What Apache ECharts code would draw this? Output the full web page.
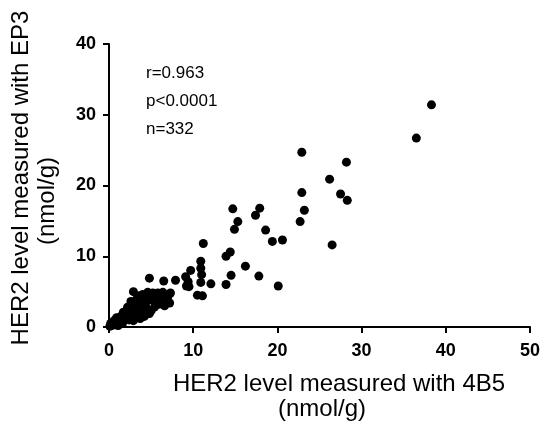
<!DOCTYPE html>
<html>
<head>
<meta charset="utf-8">
<script src="https://cdn.jsdelivr.net/npm/echarts@6/dist/echarts.min.js"></script>
<style>
html,body{margin:0;padding:0;background:#fff;}
#chart{width:543px;height:421px;}
</style>
</head>
<body>
<div id="chart"></div>
<script>
// HER2 measured with 4B5 (x, nmol/g)
var her2_4B5 = [
  38.3, 36.5, 22.9, 28.2, 26.2, 22.9, 27.5, 28.3, 23.2, 22.7, 20.6, 26.5,
  14.7, 17.9, 17.4, 15.3, 14.9, 18.6, 19.4, 11.2, 14.4, 13.9, 10.9, 16.2,
  9.7, 9.1, 10.9, 11.0, 10.9, 14.5, 17.8, 9.2, 9.5, 12.1, 13.9, 20.1, 11.1,
  4.8, 6.5, 7.9, 9.4, 10.5, 4.8, 2.9,
  0.1, 0.3, 0.5, 0.2, 0.8, 0.6, 1.0, 1.2, 0.9, 1.5, 1.4, 1.8, 2.0, 1.7, 2.3,
  2.5, 2.2, 2.8, 3.0, 2.7, 3.3, 3.5, 3.2, 3.8, 3.6, 4.1, 4.3, 4.0, 4.5, 4.8,
  4.6, 5.0, 5.3, 5.2, 5.6, 5.8, 6.0, 6.2, 6.5, 6.4, 6.8, 7.0, 7.3, 5.5, 4.4,
  5.0, 3.9, 3.1, 2.4, 1.6, 5.9, 6.6, 7.2, 3.7, 2.9, 1.1, 4.2, 5.4, 2.6, 3.4
];
// HER2 measured with EP3 (y, nmol/g)
var her2_EP3 = [
  31.4, 26.7, 24.7, 23.3, 20.9, 19.0, 18.8, 17.9, 16.5, 14.9, 12.3, 11.6,
  16.7, 16.8, 15.8, 14.9, 13.8, 13.7, 12.1, 11.8, 10.6, 10.0, 9.3, 8.6,
  8.0, 7.1, 8.3, 7.4, 6.3, 7.3, 7.2, 5.8, 5.7, 6.1, 6.0, 5.8, 4.4,
  6.9, 6.5, 6.6, 6.4, 4.5, 1.9, 5.0,
  0.1, 0.2, 0.4, 0.5, 0.3, 0.9, 0.7, 1.0, 1.3, 0.8, 1.5, 1.2, 1.8, 2.1, 1.5,
  2.3, 2.8, 2.0, 2.7, 3.3, 3.0, 2.4, 3.8, 3.5, 4.2, 3.9, 3.2, 4.6, 4.3, 3.8,
  4.9, 4.5, 4.0, 4.8, 4.3, 4.8, 3.9, 4.5, 4.1, 4.9, 3.6, 4.3, 4.8, 3.5, 2.7,
  2.3, 2.0, 1.6, 1.0, 0.5, 3.2, 3.0, 3.4, 1.2, 0.9, 0.2, 1.5, 2.8, 3.6, 4.4
];
var xTicks = [0, 10, 20, 30, 40, 50];
var yTicks = [0, 10, 20, 30, 40];
var statsLines = ['r=0.963', 'p<0.0001', 'n=332'];
var xTitle = ['HER2 level measured with 4B5', '(nmol/g)'];
var yTitle = ['HER2 level measured with EP3', '(nmol/g)'];

var points = her2_4B5.map(function (x, i) { return [x, her2_EP3[i]]; });

var chart = echarts.init(document.getElementById('chart'), null, {renderer: 'canvas'});
var FONT = 'Liberation Sans, Arial, sans-serif';
var axisCommon = {
  type: 'value',
  splitLine: {show: false},
  axisLine: {show: true, lineStyle: {color: '#000', width: 2}},
  axisTick: {show: true, inside: false, length: 6, lineStyle: {color: '#000', width: 2}},
  axisLabel: {color: '#000', fontFamily: FONT, fontWeight: 'bold', fontSize: 18}
};
chart.setOption({
  animation: false,
  backgroundColor: '#fff',
  grid: {left: 109, right: 11, top: 44, bottom: 94, containLabel: false},
  xAxis: echarts.util.merge({
    min: xTicks[0], max: xTicks[xTicks.length - 1], interval: 10,
    axisLabel: {margin: 15}
  }, axisCommon, true),
  yAxis: echarts.util.merge({
    min: yTicks[0], max: yTicks[yTicks.length - 1], interval: 10,
    axisLabel: {margin: 13}
  }, axisCommon, true),
  series: [{
    type: 'scatter',
    data: points,
    symbol: 'circle',
    symbolSize: 9,
    clip: false,
    itemStyle: {color: '#000', opacity: 1}
  }],
  graphic: [
    {type: 'text', left: 146, top: 74 - 9, style: {text: statsLines[0], fill: '#000', font: '17px ' + FONT}},
    {type: 'text', left: 146, top: 102 - 9, style: {text: statsLines[1], fill: '#000', font: '17px ' + FONT}},
    {type: 'text', left: 146, top: 130 - 9, style: {text: statsLines[2], fill: '#000', font: '17px ' + FONT}},
    {type: 'text', x: 339, y: 384, style: {text: xTitle[0], fill: '#000', font: '24px ' + FONT, align: 'center', verticalAlign: 'middle'}},
    {type: 'text', x: 322, y: 409, style: {text: xTitle[1], fill: '#000', font: '24px ' + FONT, align: 'center', verticalAlign: 'middle'}},
    {type: 'text', x: 21, y: 178, rotation: Math.PI / 2, style: {text: yTitle[0], fill: '#000', font: '24px ' + FONT, align: 'center', verticalAlign: 'middle'}},
    {type: 'text', x: 47, y: 201, rotation: Math.PI / 2, style: {text: yTitle[1], fill: '#000', font: '24px ' + FONT, align: 'center', verticalAlign: 'middle'}}
  ]
});
</script>
</body>
</html>
